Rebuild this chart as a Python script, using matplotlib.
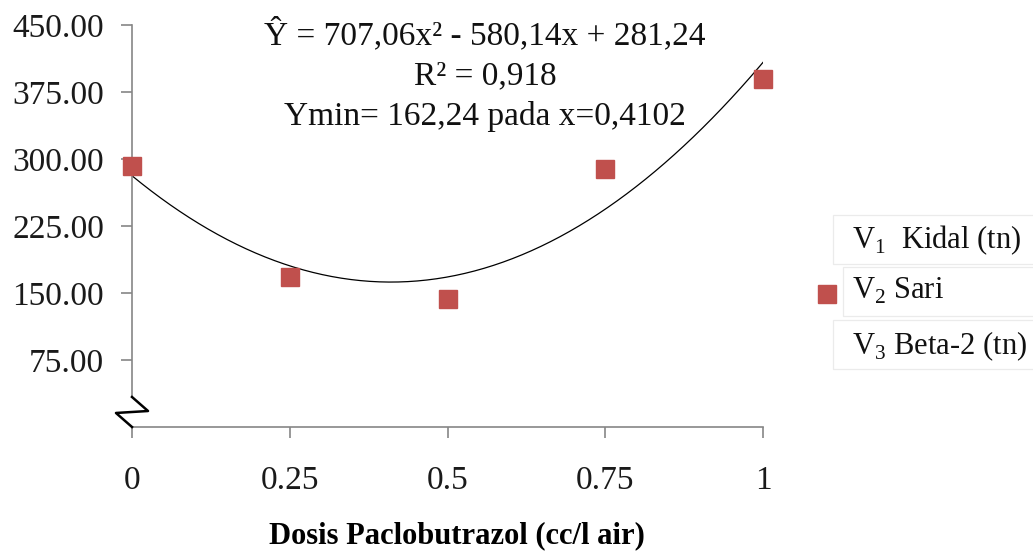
import numpy as np
import matplotlib
matplotlib.use("Agg")
import matplotlib.pyplot as plt
from matplotlib.patches import Rectangle
from matplotlib.lines import Line2D

# data
dosis = [0, 0.25, 0.5, 0.75, 1]
sari = [292, 168, 143, 289, 390]
coef = [707.06, -580.14, 281.24]  # quadratic trendline shown in the chart
yticks = [75, 150, 225, 300, 375, 450]
xticks = [0, 0.25, 0.5, 0.75, 1]
xtick_labels = ["0", "0.25", "0.5", "0.75", "1"]
legend_labels = ["V$_1$  Kidal (tn)", "V$_2$ Sari", "V$_3$ Beta-2 (tn)"]

plt.rcParams['font.family'] = ['Liberation Serif', 'DejaVu Serif']
plt.rcParams['mathtext.fontset'] = 'custom'
plt.rcParams['mathtext.rm'] = 'Liberation Serif'

W, H = 1033, 553
fig = plt.figure(figsize=(W/100, H/100), dpi=100)
ax = fig.add_axes([132/W, 1 - 427/H, (763 - 132)/W, (427 - 25)/H])

red = '#C0504D'
grey = '#868686'

xs = np.linspace(0, 1, 200)
ax.plot(xs, np.polyval(coef, xs), color='black', lw=0.9, zorder=2)
ax.plot(dosis, sari, ls='none', marker='s', ms=13.5, color=red, mec=red, clip_on=False, zorder=3)

ax.set_xlim(0, 1)
ax.set_ylim(0, 450)
ax.set_yticks(yticks)
ax.set_yticklabels([f"{v:.2f}" for v in yticks])
ax.set_xticks(xticks)
ax.set_xticklabels(xtick_labels)
for s in ['top', 'right']:
    ax.spines[s].set_visible(False)
for s in ['left', 'bottom']:
    ax.spines[s].set_color(grey)
    ax.spines[s].set_linewidth(1.2)
ax.spines['left'].set_bounds(33.6, 450)
ax.tick_params(axis='y', length=8, color=grey, width=1.2, labelsize=24, pad=12)
ax.tick_params(axis='x', length=8, color=grey, width=1.2, labelsize=24, pad=20)
ax.tick_params(axis='both', labelcolor='#1a1a1a')

# axis break zigzag at the bottom of the y axis
ax.plot([0, 0.0254, -0.0254, 0], [33.6, 17.9, 15.7, 0], color='black',
        lw=1.8, clip_on=False, zorder=4)

ax.set_xlabel("Dosis Paclobutrazol (cc/l air)", fontsize=22, fontweight='bold', va='center')
ax.xaxis.set_label_coords(0.515, (427 - 536) / 402)

eq = "Ŷ = 707,06x² - 580,14x + 281,24\nR² = 0,918\nYmin= 162,24 pada x=0,4102"
fig.text(485/W, 1 - 75/H, eq, ha='center', va='center',
         fontsize=24, linespacing=1.4, color='#111111')

# legend: three boxed entries, only V2 has a marker
rows = [240, 291, 346]
tops = [215, 267, 320]
for i, (lab, yy, top) in enumerate(zip(legend_labels, rows, tops)):
    left = 833 if i != 1 else 843
    fig.patches.append(Rectangle((left/W, 1 - (top + 49)/H), (W - left + 5)/W, 49/H,
                                 transform=fig.transFigure, fill=False,
                                 edgecolor='#ebebeb', lw=0.9))
    fig.text(852/W, 1 - yy/H, lab, ha='left', va='center', fontsize=22, color='#111111')
    if i == 1:
        fig.lines.append(Line2D([827/W], [1 - 294/H], transform=fig.transFigure,
                                marker='s', ms=12.5, color=red, ls='none'))

fig.savefig("out.png", dpi=100)
